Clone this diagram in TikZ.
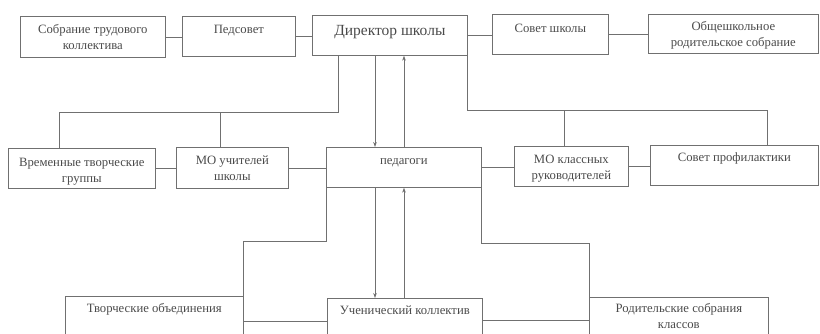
\documentclass[tikz,border=0pt]{standalone}
\usepackage{fontspec}
\setmainfont{Liberation Serif}
\usetikzlibrary{arrows.meta,calc}
\definecolor{ln}{HTML}{707070}
\definecolor{ink}{HTML}{4A4A4A}
\begin{document}
\begin{tikzpicture}[x=1pt,y=-1pt,
  bx/.style={draw=ln, line width=0.7pt, inner sep=0pt, anchor=north west},
  lbl/.style={anchor=north, inner sep=0pt, align=center, text=ink, font=\fontsize{12.7}{16.5}\selectfont},
  big/.style={lbl, font=\fontsize{15.5}{18}\selectfont},
  con/.style={draw=ln, line width=0.7pt},
  arr/.style={con, -{Stealth[length=5pt,width=3.6pt]}}]
\useasboundingbox (0,0) rectangle (820,333);
\clip (0,0) rectangle (820,333);
% top row
\node[bx, minimum width=145, minimum height=41] (A) at (20,16) {};
\node[bx, minimum width=113, minimum height=40] (B) at (182,16) {};
\node[bx, minimum width=155, minimum height=40] (C) at (312,15) {};
\node[bx, minimum width=116, minimum height=40] (D) at (492,14) {};
\node[bx, minimum width=170, minimum height=39] (E) at (648,14) {};
% middle row
\node[bx, minimum width=147, minimum height=40] (F) at (8,148) {};
\node[bx, minimum width=112, minimum height=41] (G) at (176,147) {};
\node[bx, minimum width=155, minimum height=40] (H) at (326,147) {};
\node[bx, minimum width=114, minimum height=40] (I) at (514,146) {};
\node[bx, minimum width=168, minimum height=40] (J) at (650,145) {};
% bottom row
\node[bx, minimum width=178, minimum height=44] (K) at (65,296) {};
\node[bx, minimum width=155, minimum height=42] (L) at (327,298) {};
\node[bx, minimum width=179, minimum height=43] (M) at (589,297) {};
% texts
\node[lbl] (tA) at ([yshift=-7pt]A.north) {\rule{0pt}{10pt}Собрание трудового\\коллектива};
\node[lbl] (tB) at ([yshift=-7pt]B.north) {\rule{0pt}{10pt}Педсовет};
\node[big] (tC) at ([yshift=-8pt]C.north) {\rule{0pt}{12pt}Директор школы};
\node[lbl] (tD) at ([yshift=-8pt]D.north) {\rule{0pt}{10pt}Совет школы};
\node[lbl] (tE) at ([yshift=-6pt]E.north) {\rule{0pt}{10pt}Общешкольное\\родительское собрание};
\node[lbl] (tF) at ([yshift=-8pt]F.north) {\rule{0pt}{10pt}Временные творческие\\группы};
\node[lbl] (tG) at ([yshift=-7pt]G.north) {\rule{0pt}{10pt}МО учителей\\школы};
\node[lbl] (tH) at ([yshift=-7pt]H.north) {\rule{0pt}{10pt}педагоги};
\node[lbl] (tI) at ([yshift=-7pt]I.north) {\rule{0pt}{10pt}МО классных\\руководителей};
\node[lbl] (tJ) at ([yshift=-6pt]J.north) {\rule{0pt}{10pt}Совет профилактики};
\node[lbl] (tK) at ([yshift=-6pt]K.north) {\rule{0pt}{10pt}Творческие объединения};
\node[lbl] (tL) at ([yshift=-6pt]L.north) {\rule{0pt}{10pt}Ученический коллектив};
\node[lbl] (tM) at ([yshift=-5pt]M.north) {\rule{0pt}{10pt}Родительские собрания\\классов};
% horizontal links
\path[con] (A.east) -- (A.east -| B.west);
\path[con] (B.east) -- (B.east -| C.west);
\path[con] (C.east) -- (C.east -| D.west);
\path[con] (D.east) -- (D.east -| E.west);
\path[con] (F.east) -- (F.east -| G.west);
\path[con] (G.east) -- (G.east -| H.west);
\path[con] (H.east) -- (H.east -| I.west);
\path[con] (I.east) -- (I.east -| J.west);
\path[con] ([yshift=-3pt]K.east) -- ([yshift=-3pt]K.east -| L.west);
\path[con] ([yshift=-1pt]L.east) -- ([yshift=-1pt]L.east -| M.west);
% director to middle row
\coordinate (c1) at (338,112);
\coordinate (c2) at (767,110);
\path[con] (C.south -| c1) -- (c1) -- (59,112) -- (F.north -| 59,0);
\path[con] (220,112) -- (G.north -| 220,0);
\path[con] (C.south east) -- (C.south east |- c2) -- (c2) -- (J.north -| c2);
\path[con] (564,110) -- (I.north -| 564,0);
\path[arr] (C.south -| 375,0) -- (H.north -| 375,0);
\path[arr] (H.north -| 404,0) -- (C.south -| 404,0);
% pedagogues to bottom row
\coordinate (p1) at (0,241);
\coordinate (p2) at (0,243);
\path[con] (H.south west) -- (H.south west |- p1) -- (p1 -| K.east) -- (K.north east);
\path[con] (H.south east) -- (H.south east |- p2) -- (p2 -| M.west) -- (M.north west);
\path[arr] (H.south -| 375,0) -- (L.north -| 375,0);
\path[arr] (L.north -| 404,0) -- (H.south -| 404,0);
\end{tikzpicture}
\end{document}
